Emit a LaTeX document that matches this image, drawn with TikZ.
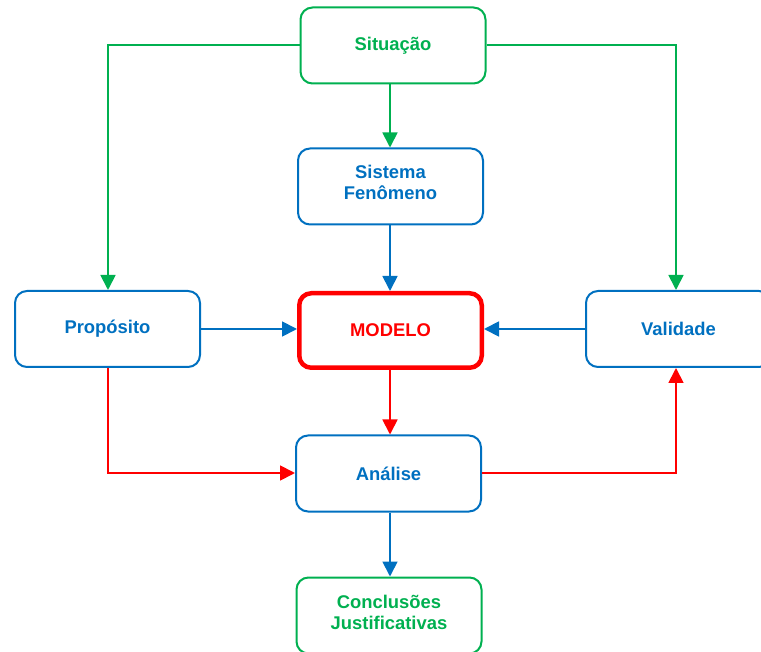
\documentclass[tikz,border=0pt]{standalone}
\usepackage{fontspec}
\setmainfont{Liberation Sans}
\usetikzlibrary{arrows.meta,calc}
\definecolor{cgreen}{RGB}{0,176,80}
\definecolor{cblue}{RGB}{0,112,192}
\definecolor{cred}{RGB}{255,0,0}
\begin{document}
\begin{tikzpicture}[x=1pt,y=-1pt,
  box/.style={draw=cblue,line width=2pt,rounded corners=12pt,minimum width=185pt,minimum height=76pt,inner sep=0pt,align=center,text=cblue,font=\fontsize{18.4}{21}\selectfont\bfseries},
  gbox/.style={box,draw=cgreen,text=cgreen},
  rbox/.style={box,draw=cred,text=cred,line width=4.5pt,minimum width=182.5pt,minimum height=74.5pt},
  conn/.style={line width=1.8pt,-{Triangle[width=15pt,length=15pt]}},
  gconn/.style={conn,cgreen},
  bconn/.style={conn,cblue},
  rconn/.style={conn,cred}]
\path[use as bounding box] (0,0) rectangle (761,652);
\node[gbox] (sit) at (393,45.5) {Situação};
\node[box] (sis) at (390.5,186.5) {Sistema\\Fenômeno\rule[-9pt]{0pt}{1pt}};
\node[box] (prop) at (107.5,329) {Propósito};
\node[rbox] (mod) at (390.5,330.5) {MODELO};
\node[box] (val) at (678.5,329) {Validade};
\node[box] (ana) at (388.5,473.5) {Análise};
\node[gbox] (conc) at (389,615.5) {Conclusões\\Justificativas\rule[-6pt]{0pt}{1pt}};
\coordinate (cx) at (390,0);
\coordinate (lx) at (108,0);
\coordinate (rx) at (676,0);
\coordinate (ty) at (0,45);
\coordinate (my) at (0,329);
\coordinate (by) at (0,473);
\draw[gconn] (ty -| sit.west) -| (lx |- prop.north);
\draw[gconn] (ty -| sit.east) -| (rx |- val.north);
\draw[gconn] (cx |- sit.south) -- (cx |- sis.north);
\draw[bconn] (cx |- sis.south) -- (cx |- mod.north);
\draw[bconn] (my -| prop.east) -- (my -| mod.west);
\draw[bconn] (my -| val.west) -- (my -| mod.east);
\draw[rconn] (cx |- mod.south) -- (cx |- ana.north);
\draw[rconn] (lx |- prop.south) |- (by -| ana.west);
\draw[rconn] (by -| ana.east) -| (rx |- val.south);
\draw[bconn] (cx |- ana.south) -- (cx |- conc.north);
\end{tikzpicture}
\end{document}
